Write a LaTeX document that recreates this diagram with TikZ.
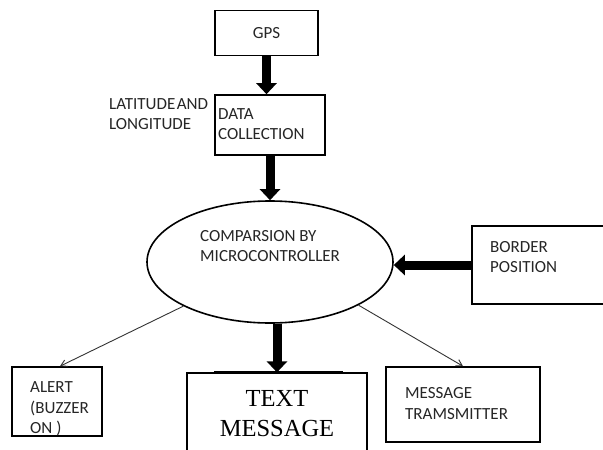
\documentclass[tikz,border=0pt]{standalone}
\usepackage{fontspec}
\setmainfont{Carlito}
\newfontfamily\serifmsg{Liberation Serif}
\usetikzlibrary{shapes.geometric,arrows.meta}

\tikzset{
  box/.style={draw, line width=1.6pt, inner sep=0pt},
  lbl/.style={anchor=west, align=left, inner sep=0pt, text=black!85,
    font=\fontsize{17}{20.5}\selectfont},
  fatarrow/.style={line width=9pt, -{Triangle[width=20pt,length=11pt]}},
  thinarrow/.style={line width=0.9pt, draw=black!80, -{Straight Barb[length=6pt,width=7pt]}}
}

\begin{document}
\begin{tikzpicture}[x=1pt,y=-1pt]
        % Page frame
        \useasboundingbox (0,0) rectangle (603,450);
        \fill[white] (0,0) rectangle (603,450);

        % Boxes and the ellipse
        \node[box, minimum width=103, minimum height=45, text=black!85,
          font=\fontsize{17}{20.5}\selectfont] (gps) at (266.5,33) {GPS};
        \node[box, minimum width=110, minimum height=60] (data) at (270,125) {};
        \node[box, ellipse, minimum width=246, minimum height=122] (cmp) at (270,262) {};
        \node[box, minimum width=143, minimum height=78] (border) at (543.5,265) {};
        \node[box, minimum width=90, minimum height=69] (alert) at (57,401.5) {};
        \node[box, minimum width=154, minimum height=75] (msg) at (463,404.5) {};
        \node[box, line width=1.2pt, minimum width=180, minimum height=82, align=center,
          font=\serifmsg\fontsize{24.5}{30}\selectfont] (txt) at (277,414) {TEXT\\MESSAGE};

        % Texts beside and inside the boxes
        \node[lbl] (latlon) at (109,114) {LATITUDE\hspace{1.5pt}AND\\LONGITUDE};
        \node[lbl] (datatxt) at (218,124) {DATA\\COLLECTION};
        \node[lbl] (cmptxt) at (200,246) {COMPARSION BY\\MICROCONTROLLER};
        \node[lbl] (bordertxt) at (490,257) {BORDER\\POSITION};
        \node[lbl] (alerttxt) at (30,409) {ALERT\\(BUZZER\\ON )};
        \node[lbl] (msgtxt) at (405,403.5) {MESSAGE\\TRAMSMITTER};

        % Heavy arrows
        \draw[fatarrow] (gps.south) -- (gps.south |- data.north);
        \draw[fatarrow] (data.south) -- (cmp.north);
        \draw[fatarrow] (border.west) -- (cmp.east |- border.west);
        \draw[fatarrow] (txt.north |- cmp.south) -- (txt.north);

        % Thick edge on top of the text message box
        \draw[line width=3pt] ([xshift=28pt]txt.north west) -- ([xshift=-25pt]txt.north east);

        % Thin arrows to the outputs
        \draw[thinarrow] (cmp.207) -- ([xshift=3pt]alert.north);
        \draw[thinarrow] (cmp.334) -- (msg.north);
    \end{tikzpicture}
\end{document}
